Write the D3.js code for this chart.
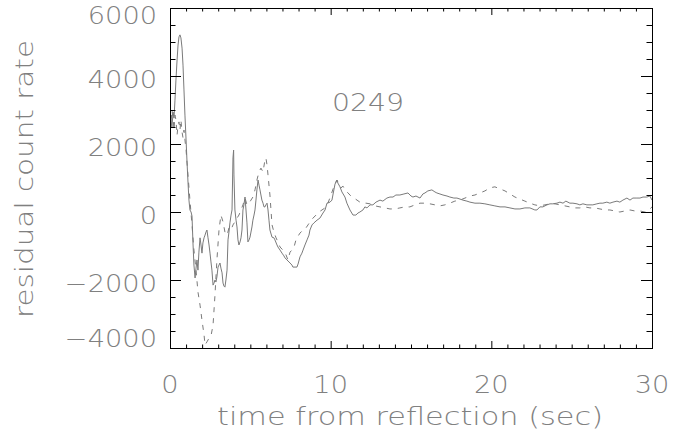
<!DOCTYPE html>
<html>
<head>
<meta charset="utf-8">
<script src="https://cdn.jsdelivr.net/npm/d3@7"></script>
<style>
  html, body { margin: 0; padding: 0; background: #fff; }
  svg { display: block; }
  text { font-family: "DejaVu Sans", sans-serif; font-weight: 200; fill: #808080; }
</style>
</head>
<body>
<svg id="chart" width="694" height="437"></svg>
<script>
// ---------- data ----------
const xMajorTicks = [0, 10, 20, 30];
const yMajorTicks = [-4000, -2000, 0, 2000, 4000, 6000];
const xTitle = "time from reflection (sec)";
const yTitle = "residual count rate";
const annotation = "0249";

// solid series (time in s, residual count rate)
const solidTime = [0,0.06,0.12,0.19,0.25,0.31,0.37,0.44,0.5,0.56,0.62,0.68,0.75,0.81,0.87,0.93,1,1.06,1.12,1.18,1.24,1.31,1.37,1.43,1.49,1.56,1.62,1.68,1.74,1.8,1.87,1.93,1.99,2.05,2.12,2.18,2.24,2.3,2.36,2.43,2.49,2.55,2.61,2.68,2.74,2.8,2.86,2.92,2.99,3.05,3.11,3.17,3.24,3.3,3.36,3.42,3.48,3.55,3.61,3.67,3.73,3.8,3.86,3.92,3.96,3.98,4.04,4.11,4.17,4.23,4.29,4.36,4.42,4.48,4.54,4.6,4.67,4.73,4.79,4.85,4.92,4.98,5.04,5.1,5.16,5.23,5.29,5.35,5.41,5.48,5.54,5.6,5.66,5.72,5.79,5.85,5.91,5.97,6.04,6.1,6.16,6.22,6.35,6.47,6.53,6.66,6.72,6.85,6.97,7.09,7.16,7.28,7.47,7.59,7.65,7.78,7.9,7.97,8.09,8.21,8.28,8.4,8.53,8.65,8.71,8.84,8.96,9.15,9.33,9.52,9.65,9.77,9.96,10.08,10.2,10.27,10.39,10.45,10.58,10.7,10.89,11.01,11.2,11.39,11.57,11.7,11.82,12.01,12.13,12.26,12.45,12.63,12.82,13.07,13.25,13.5,13.69,13.88,14.06,14.31,14.56,14.81,15,15.12,15.31,15.56,15.74,15.87,16.05,16.3,16.49,16.61,16.8,16.99,17.24,17.42,17.67,17.86,18.05,18.23,18.48,18.67,18.98,19.29,19.6,19.91,20.22,20.54,20.85,21.16,21.47,21.78,22.09,22.4,22.71,22.84,23.02,23.21,23.46,23.65,23.83,24.08,24.27,24.46,24.64,24.89,25.08,25.33,25.51,25.7,25.95,26.14,26.32,26.57,26.76,26.94,27.19,27.38,27.57,27.82,28,28.19,28.44,28.63,28.81,29.06,29.25,29.44,29.68,29.87,30];
const solidRate = [2260,2710,2470,2940,2760,3290,3880,4470,4910,5150,5210,5120,4820,4320,3590,2850,2120,1470,880,350,60,0,-120,-910,-1560,-1940,-1650,-1410,-1710,-1180,-760,-970,-1210,-910,-760,-680,-590,-530,-740,-970,-1210,-1470,-1710,-2150,-2090,-2000,-2060,-1910,-1620,-1560,-1500,-1650,-1790,-2090,-2180,-2210,-2000,-1710,-820,-590,-320,-90,60,1590,1820,1090,60,-240,-440,-820,-970,-880,-760,-530,60,210,440,60,-320,-880,-820,-740,-590,-440,-240,-90,60,350,650,940,790,650,500,350,260,150,150,210,260,60,-240,-530,-740,-760,-820,-970,-1030,-1120,-1210,-1290,-1350,-1410,-1500,-1560,-1620,-1620,-1620,-1530,-1320,-1210,-1120,-970,-820,-680,-530,-380,-320,-240,-180,-30,60,260,290,350,650,820,940,850,740,590,440,260,60,-90,-90,-30,0,60,150,120,210,210,290,350,320,410,440,440,500,500,530,560,470,440,470,410,530,560,620,650,590,560,530,500,470,440,410,410,380,350,320,290,260,260,240,210,180,150,150,120,90,90,120,120,60,60,150,150,210,240,240,260,290,260,320,260,260,240,210,240,210,210,210,240,260,260,290,260,290,320,290,350,410,350,410,410,410,440,440,470,350];

// dashed series (time in s, residual count rate)
const dashedTime = [0,0.06,0.12,0.19,0.25,0.31,0.37,0.44,0.5,0.56,0.62,0.68,0.75,0.81,0.87,0.93,1,1.12,1.24,1.37,1.49,1.62,1.74,1.87,1.99,2.12,2.18,2.3,2.43,2.55,2.68,2.8,2.92,3.05,3.17,3.3,3.42,3.55,3.67,3.8,3.92,4.04,4.17,4.29,4.42,4.54,4.67,4.79,4.92,5.04,5.16,5.29,5.41,5.54,5.66,5.79,5.91,5.97,6.04,6.1,6.22,6.35,6.47,6.6,6.72,6.85,7.03,7.22,7.34,7.47,7.59,7.72,7.84,7.97,8.09,8.28,8.46,8.59,8.71,8.9,9.09,9.27,9.46,9.65,9.83,10.02,10.21,10.39,10.52,10.64,10.77,10.89,11.08,11.26,11.45,11.64,11.82,12.01,12.2,12.45,12.76,13.07,13.38,13.69,14,14.31,14.62,14.93,15.25,15.56,15.87,16.18,16.49,16.8,17.11,17.42,17.73,18.05,18.36,18.67,18.98,19.29,19.6,19.91,20.22,20.54,20.85,21.16,21.47,21.78,22.09,22.4,22.71,23.02,23.34,23.65,23.96,24.27,24.58,24.89,25.2,25.51,25.82,26.14,26.45,26.76,27.07,27.38,27.69,28,28.31,28.63,28.94,29.25,29.56,29.87,30];
const dashedRate = [3380,2560,3000,2760,2410,2850,2710,2260,2560,2650,2410,2710,2350,2180,2410,2120,1820,1090,350,-380,-1120,-1710,-2350,-2740,-3180,-3620,-3910,-3820,-3710,-3650,-3320,-2440,-1410,-530,-90,-290,-590,-680,-470,-530,-380,-290,-180,-90,60,210,410,210,260,350,440,650,940,1180,1290,1180,1530,1590,1380,1090,500,-380,-590,-760,-880,-1030,-1120,-1260,-1410,-1180,-1120,-1030,-820,-710,-620,-530,-470,-380,-290,-180,-90,0,60,120,260,500,760,940,820,710,760,650,560,470,410,350,290,260,260,240,180,150,120,90,90,120,150,150,210,260,260,240,210,180,210,260,320,350,410,470,500,560,620,710,740,680,620,530,440,380,320,260,210,180,210,240,240,210,180,150,120,120,150,120,120,90,60,60,30,0,30,60,30,30,0,90,150];

// ---------- layout ----------
const mLeft = 170, mRight = 652, mTop = 8, mBottom = 348;
const svg = d3.select("#chart");

const x = d3.scaleLinear().domain([0, 30]).range([mLeft, mRight]);
const y = d3.scaleLinear().domain([-4000, 6000]).range([mBottom, mTop]);

const xMinor = d3.range(0, 31, 1).filter(v => !xMajorTicks.includes(v));
const yMinor = d3.range(-4000, 6001, 500).filter(v => !yMajorTicks.includes(v));

// clip
svg.append("clipPath").attr("id", "plotclip").append("rect")
  .attr("x", mLeft).attr("y", mTop).attr("width", mRight - mLeft).attr("height", mBottom - mTop);

// lines
const solid = solidTime.map((t, i) => [t, solidRate[i]]);
const dashed = dashedTime.map((t, i) => [t, dashedRate[i]]);
const line = d3.line().x(d => x(d[0])).y(d => y(d[1]));

const g = svg.append("g").attr("clip-path", "url(#plotclip)");
g.append("path").attr("d", line(solid))
  .attr("fill", "none").attr("stroke", "#7a7a7a").attr("stroke-width", 1);
g.append("path").attr("d", line(dashed))
  .attr("fill", "none").attr("stroke", "#7a7a7a").attr("stroke-width", 1)
  .attr("stroke-dasharray", "5,6");

// axes (ticks inward on all four sides)
function styleAxis(sel) {
  sel.selectAll(".domain").remove();
  sel.selectAll("line").attr("stroke", "#000").attr("stroke-width", 1);
  sel.selectAll("text").remove();
}
const xMajLen = 7, xMinLen = 3.5, yMajLen = 11, yMinLen = 5.5;

svg.append("g").attr("transform", `translate(0,${mBottom})`)
  .call(d3.axisBottom(x).tickValues(xMajorTicks).tickSize(-xMajLen)).call(styleAxis);
svg.append("g").attr("transform", `translate(0,${mBottom})`)
  .call(d3.axisBottom(x).tickValues(xMinor).tickSize(-xMinLen)).call(styleAxis);
svg.append("g").attr("transform", `translate(0,${mTop})`)
  .call(d3.axisTop(x).tickValues(xMajorTicks).tickSize(-xMajLen)).call(styleAxis);
svg.append("g").attr("transform", `translate(0,${mTop})`)
  .call(d3.axisTop(x).tickValues(xMinor).tickSize(-xMinLen)).call(styleAxis);
svg.append("g").attr("transform", `translate(${mLeft},0)`)
  .call(d3.axisLeft(y).tickValues(yMajorTicks).tickSize(-yMajLen)).call(styleAxis);
svg.append("g").attr("transform", `translate(${mLeft},0)`)
  .call(d3.axisLeft(y).tickValues(yMinor).tickSize(-yMinLen)).call(styleAxis);
svg.append("g").attr("transform", `translate(${mRight},0)`)
  .call(d3.axisRight(y).tickValues(yMajorTicks).tickSize(-yMajLen)).call(styleAxis);
svg.append("g").attr("transform", `translate(${mRight},0)`)
  .call(d3.axisRight(y).tickValues(yMinor).tickSize(-yMinLen)).call(styleAxis);

// frame
svg.append("rect").attr("x", mLeft).attr("y", mTop)
  .attr("width", mRight - mLeft).attr("height", mBottom - mTop)
  .attr("fill", "none").attr("stroke", "#000").attr("stroke-width", 1)
  .attr("shape-rendering", "crispEdges");

// tick labels
const fs = 25, digitW = 17.3, minusW = 23;
const fmt = v => (v < 0 ? "\u2212" : "") + Math.abs(v);
svg.append("g").selectAll("text").data(yMajorTicks).join("text")
  .attr("x", 157)
  .attr("y", d => Math.min(mBottom - 1, Math.max(mTop + 16, y(d) + 12)))
  .attr("text-anchor", "end")
  .attr("font-size", fs)
  .attr("textLength", d => String(Math.abs(d)).length * digitW + (d < 0 ? minusW : 0))
  .attr("lengthAdjust", "spacingAndGlyphs")
  .text(fmt);

svg.append("g").selectAll("text").data(xMajorTicks).join("text")
  .attr("x", d => x(d))
  .attr("y", 393)
  .attr("text-anchor", "middle")
  .attr("font-size", fs)
  .attr("textLength", d => String(d).length * digitW)
  .attr("lengthAdjust", "spacingAndGlyphs")
  .text(d => d);

// titles
svg.append("text").attr("x", 410).attr("y", 425)
  .attr("text-anchor", "middle").attr("font-size", fs)
  .attr("textLength", 386).attr("lengthAdjust", "spacingAndGlyphs")
  .text(xTitle);

svg.append("text").attr("transform", "translate(33,179) rotate(-90)")
  .attr("text-anchor", "middle").attr("font-size", fs)
  .attr("textLength", 278).attr("lengthAdjust", "spacingAndGlyphs")
  .text(yTitle);

svg.append("text").attr("x", 368).attr("y", 111)
  .attr("text-anchor", "middle").attr("font-size", fs)
  .attr("textLength", 72).attr("lengthAdjust", "spacingAndGlyphs")
  .text(annotation);
</script>
</body>
</html>
